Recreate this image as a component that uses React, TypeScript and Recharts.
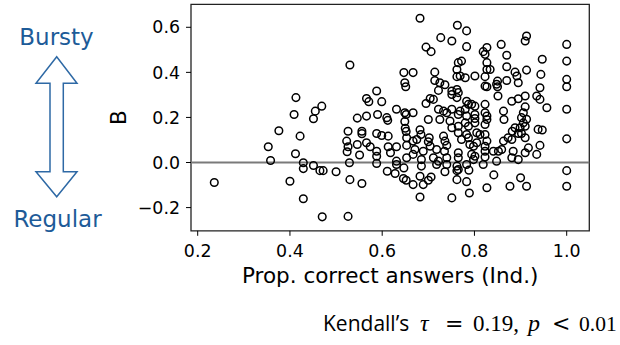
import React from 'react'
import {
  ScatterChart,
  Scatter,
  XAxis,
  YAxis,
  ReferenceLine,
  ReferenceArea,
  Label,
} from 'recharts'

// proportion of correct answers (individual) per participant
const propCorrect = [
  0.236, 0.353, 0.358, 0.376, 0.400, 0.409, 0.412, 0.413, 0.422, 0.429,
  0.429, 0.429, 0.451, 0.451, 0.455, 0.465, 0.469, 0.470, 0.472, 0.500,
  0.523, 0.524, 0.526, 0.526, 0.526, 0.529, 0.530, 0.530, 0.546, 0.546,
  0.551, 0.556, 0.556, 0.556, 0.566, 0.566, 0.566, 0.571, 0.574, 0.588,
  0.588, 0.588, 0.588, 0.588, 0.590, 0.599, 0.599, 0.610, 0.612, 0.611,
  0.613, 0.613, 0.618, 0.628, 0.631, 0.631, 0.631, 0.631, 0.646, 0.647,
  0.647, 0.649, 0.651, 0.649, 0.649, 0.650, 0.652, 0.652, 0.652, 0.653,
  0.653, 0.653, 0.667, 0.667, 0.667, 0.667, 0.667, 0.671, 0.675, 0.682,
  0.682, 0.684, 0.682, 0.682, 0.685, 0.685, 0.689, 0.689, 0.695, 0.695,
  0.700, 0.702, 0.700, 0.700, 0.704, 0.704, 0.706, 0.706, 0.711, 0.711,
  0.714, 0.714, 0.718, 0.718, 0.722, 0.722, 0.722, 0.725, 0.725, 0.727,
  0.733, 0.733, 0.735, 0.736, 0.736, 0.736, 0.740, 0.740, 0.740, 0.740,
  0.747, 0.751, 0.751, 0.751, 0.751, 0.751, 0.751, 0.762, 0.762, 0.762,
  0.762, 0.762, 0.762, 0.762, 0.763, 0.765, 0.765, 0.765, 0.765, 0.765,
  0.765, 0.765, 0.765, 0.769, 0.769, 0.772, 0.772, 0.780, 0.780, 0.780,
  0.783, 0.783, 0.783, 0.783, 0.783, 0.783, 0.783, 0.787, 0.787, 0.787,
  0.788, 0.789, 0.790, 0.794, 0.794, 0.798, 0.798, 0.801, 0.801, 0.801,
  0.801, 0.801, 0.801, 0.805, 0.805, 0.812, 0.819, 0.819, 0.823, 0.823,
  0.823, 0.823, 0.823, 0.823, 0.823, 0.823, 0.823, 0.823, 0.827, 0.827,
  0.827, 0.827, 0.827, 0.827, 0.827, 0.827, 0.834, 0.841, 0.842, 0.848,
  0.848, 0.850, 0.850, 0.851, 0.852, 0.858, 0.859, 0.863, 0.864, 0.863,
  0.870, 0.870, 0.870, 0.873, 0.877, 0.882, 0.881, 0.881, 0.881, 0.884,
  0.888, 0.888, 0.892, 0.895, 0.895, 0.895, 0.895, 0.899, 0.900, 0.902,
  0.902, 0.906, 0.906, 0.910, 0.910, 0.910, 0.910, 0.910, 0.910, 0.913,
  0.913, 0.913, 0.913, 0.917, 0.935, 0.935, 0.938, 0.942, 0.942, 0.942,
  0.944, 0.947, 0.947, 0.957, 1.0, 1.0, 1.0, 1.0, 1.0, 1.0,
  1.0, 1.0,
]

// burstiness coefficient B, same order
const burstiness = [
  -0.089, 0.070, 0.009, 0.141, -0.083, 0.213, 0.039, 0.288, 0.117, -0.001,
  -0.027, -0.161, -0.013, 0.194, 0.228, -0.036, 0.250, -0.241, -0.036, -0.041,
  0.095, 0.048, 0.070, 0.139, -0.239, -0.001, 0.433, -0.076, 0.080, 0.197,
  0.033, 0.139, 0.128, -0.093, 0.088, 0.206, 0.284, 0.270, 0.070, 0.317,
  0.129, 0.050, 0.028, -0.004, 0.213, 0.120, 0.270, 0.199, 0.187, -0.039,
  0.117, 0.070, 0.043, -0.049, 0.236, 0.070, 0.006, -0.009, -0.071, -0.024,
  0.399, 0.354, 0.336, 0.221, 0.182, 0.152, 0.138, -0.079, 0.213, 0.110,
  0.076, 0.021, 0.399, 0.221, 0.095, 0.036, -0.098, 0.058, 0.102, 0.640,
  0.145, 0.124, -0.061, -0.153, 0.013, -0.016, 0.050, -0.098, 0.512, 0.262,
  0.191, 0.110, 0.092, -0.079, 0.284, 0.072, -0.064, 0.492, 0.280, 0.021,
  0.401, 0.364, 0.058, -0.009, 0.320, 0.236, 0.006, 0.354, 0.191, 0.554,
  0.228, 0.117, 0.050, 0.345, 0.095, -0.041, 0.221, 0.076, 0.021, -0.009,
  0.184, 0.539, 0.317, 0.302, 0.236, 0.154, -0.157, 0.413, 0.381, 0.288,
  0.324, -0.016, -0.036, -0.076, 0.609, 0.443, 0.310, 0.213, 0.161, 0.132,
  0.043, 0.021, -0.031, 0.384, 0.228, 0.450, 0.102, 0.376, 0.236, 0.176,
  0.584, 0.514, 0.272, 0.206, 0.124, -0.009, -0.085, 0.258, 0.161, 0.110,
  -0.034, -0.135, 0.080, 0.258, 0.036, 0.072, 0.013, 0.384, 0.250, 0.213,
  0.195, 0.176, 0.028, 0.132, 0.088, 0.124, 0.492, -0.009, 0.480, 0.381,
  0.339, 0.258, 0.221, 0.169, 0.124, 0.072, 0.050, 0.024, 0.510, 0.443,
  0.413, 0.336, 0.206, 0.191, 0.095, -0.112, 0.413, 0.050, -0.055, 0.347,
  0.006, 0.361, 0.336, 0.295, 0.050, 0.524, 0.058, 0.228, 0.191, 0.095,
  0.476, 0.425, 0.364, 0.110, -0.105, 0.139, 0.272, 0.102, 0.021, 0.050,
  0.401, 0.154, 0.384, 0.354, 0.283, 0.129, 0.013, 0.154, -0.068, 0.199,
  0.129, 0.221, 0.176, 0.539, 0.295, 0.247, 0.161, 0.110, 0.043, 0.561,
  0.410, 0.192, -0.105, 0.065, 0.295, 0.036, 0.147, 0.332, 0.280, 0.076,
  0.391, 0.458, 0.144, 0.243, 0.524, 0.450, 0.369, 0.336, 0.236, 0.105,
  -0.036, -0.105,
]

const xTicks = [0.2, 0.4, 0.6, 0.8, 1.0]
const yTicks = [-0.2, 0.0, 0.2, 0.4, 0.6]
const xDomain: [number, number] = [0.1855, 1.049]
const yDomain: [number, number] = [-0.303, 0.702]

const points = propCorrect.map((x, i) => ({ x, y: burstiness[i] }))

const FONT = '"DejaVu Sans", sans-serif'
const SERIF = '"Liberation Serif", serif'
const MATH = '"DejaVu Serif", serif'
const BLUE = '#1d5b98'

const fmt = (v: number) => (v < 0 ? '\u2212' + Math.abs(v).toFixed(1) : v.toFixed(1))

const OpenCircle = (props: any) => (
  <circle cx={props.cx} cy={props.cy} r={3.8} fill="none" stroke="#000" strokeWidth={1.5} />
)

const XTitle = () => (
  <text x={390.2} y={282.7} textAnchor="middle" fontFamily={FONT} fontSize={21.5} fill="#000">
    Prop. correct answers (Ind.)
  </text>
)

const YTitle = () => (
  <text x={126} y={117.5} transform="rotate(-90 126 117.5)" textAnchor="middle"
    fontFamily={FONT} fontSize={21.5} fill="#000">
    B
  </text>
)

export default function App() {
  const tickStyle = { fontSize: 17.4, fill: '#000', fontFamily: FONT }
  return (
    <div style={{ position: 'absolute', left: 0, top: 0, width: 620, height: 345, background: '#fff' }}>
      <ScatterChart width={620} height={345} margin={{ top: 4.3, right: 30.7, bottom: 0, left: 0 }}>
        <XAxis type="number" dataKey="x" domain={xDomain} ticks={xTicks} tickFormatter={fmt}
          allowDataOverflow axisLine={false} tickLine={{ stroke: '#000' }} tickSize={5} tickMargin={9}
          tick={tickStyle} height={114.2}>
          <Label content={XTitle} />
        </XAxis>
        <YAxis type="number" dataKey="y" domain={yDomain} ticks={yTicks} tickFormatter={fmt}
          allowDataOverflow axisLine={false} tickLine={{ stroke: '#000' }} tickSize={5} tickMargin={6}
          tick={tickStyle} width={191}>
          <Label content={YTitle} />
        </YAxis>
        <Scatter data={points} shape={OpenCircle} isAnimationActive={false} />
        <ReferenceLine y={0} stroke="#7a7a7a" strokeWidth={2} />
        <ReferenceArea x1={xDomain[0]} x2={xDomain[1]} y1={yDomain[0]} y2={yDomain[1]}
          fill="none" fillOpacity={0} stroke="#222" strokeWidth={1.3} />
      </ScatterChart>

      <svg width={620} height={345} style={{ position: 'absolute', left: 0, top: 0, pointerEvents: 'none' }}>
        <text x={56.5} y={45} textAnchor="middle" fontFamily={FONT} fontSize={23} fill={BLUE}>Bursty</text>
        <polygon
          points="56.7,56.7 36,83.3 50,83.3 50,171.7 36,171.7 56.7,196.7 77,171.7 63.3,171.7 63.3,83.3 77,83.3"
          fill="#fff" stroke="#2e69a5" strokeWidth={1.5} strokeLinejoin="miter" />
        <text x={57.5} y={226.7} textAnchor="middle" fontFamily={FONT} fontSize={23} fill={BLUE}>Regular</text>

        <text y={331} fill="#000">
          <tspan x={323} fontFamily='"Open Sans", sans-serif' fontSize={21}>Kendall’s</tspan>
          <tspan x={420} fontFamily={SERIF} fontStyle="italic" fontSize={24}>τ</tspan>
          <tspan x={445} fontFamily={MATH} fontSize={22}>=</tspan>
          <tspan x={473} fontFamily={SERIF} fontSize={23}>0.19,</tspan>
          <tspan x={528} fontFamily={SERIF} fontStyle="italic" fontSize={24}>p</tspan>
          <tspan x={552} fontFamily={MATH} fontSize={22}>&lt;</tspan>
          <tspan x={579} fontFamily={SERIF} fontSize={21.5}>0.01</tspan>
        </text>
      </svg>
    </div>
  )
}
